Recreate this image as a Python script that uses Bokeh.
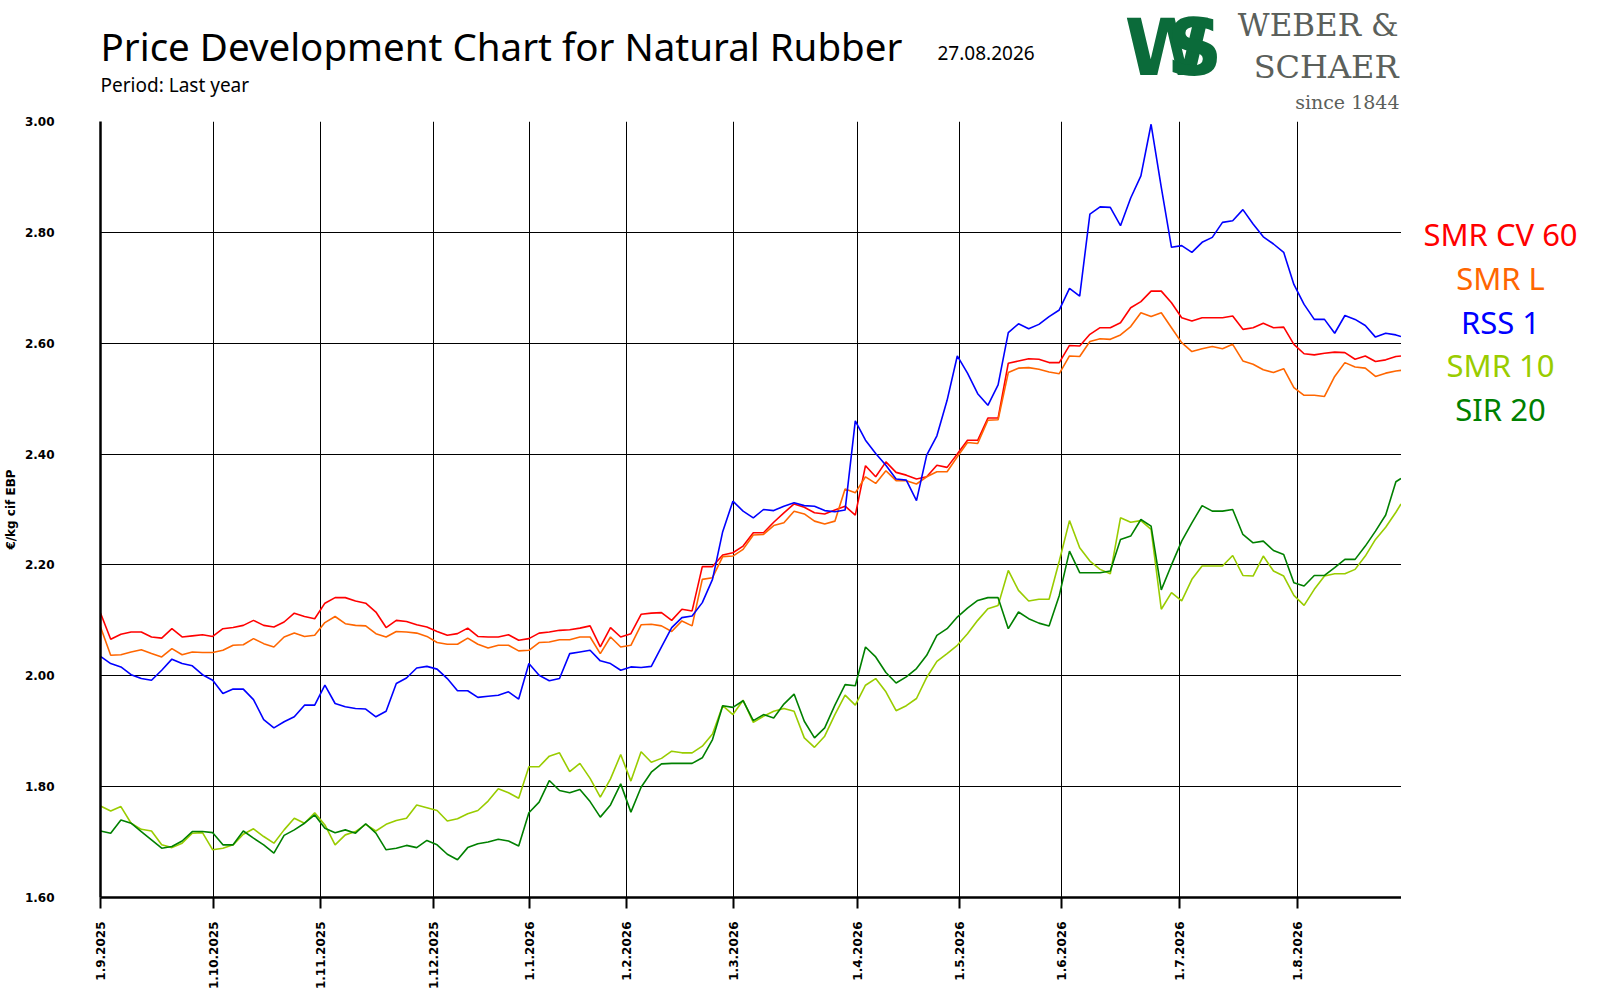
import math
from bokeh.plotting import figure
from bokeh.models import Range1d, FixedTicker, CustomJSTickFormatter, PrintfTickFormatter, GridBox
from bokeh.core.properties import value
from bokeh.embed import file_html
from bokeh.resources import INLINE

# trading-day index (every 2nd day sampled, last day appended)
day = list(range(0, 256, 2)) + [255]

smr_cv60 = [
    2.113, 2.066, 2.075, 2.079, 2.079, 2.070, 2.068, 2.085,
    2.070, 2.072, 2.074, 2.071, 2.085, 2.087, 2.091, 2.100,
    2.091, 2.088, 2.097, 2.113, 2.107, 2.103, 2.131, 2.141,
    2.141, 2.135, 2.131, 2.115, 2.087, 2.100, 2.098, 2.092,
    2.088, 2.080, 2.073, 2.076, 2.086, 2.071, 2.070, 2.070,
    2.074, 2.064, 2.067, 2.077, 2.079, 2.082, 2.083, 2.086,
    2.090, 2.052, 2.087, 2.070, 2.076, 2.111, 2.113, 2.114,
    2.100, 2.120, 2.117, 2.197, 2.197, 2.218, 2.222, 2.234,
    2.258, 2.258, 2.277, 2.294, 2.310, 2.304, 2.294, 2.292,
    2.299, 2.306, 2.290, 2.379, 2.359, 2.386, 2.367, 2.362,
    2.355, 2.359, 2.380, 2.376, 2.400, 2.425, 2.425, 2.465,
    2.465, 2.564, 2.568, 2.572, 2.571, 2.565, 2.565, 2.596,
    2.595, 2.616, 2.628, 2.628, 2.637, 2.664, 2.675, 2.694,
    2.694, 2.673, 2.646, 2.640, 2.646, 2.646, 2.646, 2.649,
    2.625, 2.628, 2.636, 2.628, 2.629, 2.598, 2.581, 2.579,
    2.582, 2.584, 2.583, 2.571, 2.577, 2.567, 2.570, 2.576,
    2.577]

smr_l = [
    2.088, 2.037, 2.038, 2.043, 2.047, 2.040, 2.034, 2.049,
    2.038, 2.043, 2.042, 2.042, 2.046, 2.055, 2.056, 2.067,
    2.058, 2.052, 2.070, 2.077, 2.071, 2.073, 2.096, 2.107,
    2.094, 2.091, 2.090, 2.076, 2.070, 2.080, 2.079, 2.077,
    2.071, 2.060, 2.057, 2.057, 2.068, 2.057, 2.050, 2.055,
    2.055, 2.045, 2.046, 2.060, 2.061, 2.065, 2.065, 2.070,
    2.070, 2.040, 2.070, 2.052, 2.055, 2.092, 2.093, 2.090,
    2.080, 2.099, 2.090, 2.174, 2.177, 2.215, 2.216, 2.228,
    2.254, 2.255, 2.271, 2.276, 2.297, 2.292, 2.279, 2.274,
    2.279, 2.337, 2.330, 2.359, 2.347, 2.370, 2.352, 2.352,
    2.346, 2.359, 2.368, 2.368, 2.395, 2.421, 2.419, 2.461,
    2.462, 2.547, 2.555, 2.556, 2.553, 2.548, 2.545, 2.577,
    2.576, 2.603, 2.608, 2.607, 2.615, 2.630, 2.655, 2.648,
    2.655, 2.628, 2.601, 2.585, 2.590, 2.594, 2.590, 2.598,
    2.568, 2.562, 2.552, 2.547, 2.554, 2.520, 2.506, 2.506,
    2.504, 2.540, 2.565, 2.557, 2.555, 2.540, 2.546, 2.550,
    2.551]

rss_1 = [
    2.035, 2.022, 2.016, 2.002, 1.995, 1.992, 2.010, 2.030,
    2.022, 2.018, 2.002, 1.992, 1.968, 1.976, 1.976, 1.957,
    1.921, 1.906, 1.917, 1.926, 1.947, 1.947, 1.983, 1.950,
    1.944, 1.941, 1.940, 1.926, 1.936, 1.986, 1.996, 2.014,
    2.017, 2.012, 1.995, 1.973, 1.973, 1.961, 1.963, 1.965,
    1.971, 1.958, 2.022, 2.001, 1.991, 1.995, 2.040, 2.043,
    2.046, 2.027, 2.022, 2.010, 2.016, 2.015, 2.017, 2.052,
    2.087, 2.105, 2.108, 2.132, 2.174, 2.260, 2.315, 2.297,
    2.285, 2.300, 2.298, 2.306, 2.312, 2.307, 2.306, 2.298,
    2.296, 2.299, 2.460, 2.425, 2.401, 2.380, 2.355, 2.353,
    2.316, 2.398, 2.433, 2.497, 2.577, 2.546, 2.509, 2.488,
    2.525, 2.619, 2.635, 2.626, 2.634, 2.648, 2.660, 2.699,
    2.685, 2.833, 2.846, 2.845, 2.812, 2.862, 2.902, 2.995,
    2.881, 2.773, 2.776, 2.764, 2.782, 2.791, 2.818, 2.821,
    2.841, 2.815, 2.792, 2.779, 2.764, 2.706, 2.670, 2.643,
    2.643, 2.618, 2.650, 2.643, 2.632, 2.611, 2.618, 2.615,
    2.612]

smr_10 = [
    1.765, 1.756, 1.764, 1.734, 1.723, 1.720, 1.695, 1.690,
    1.698, 1.716, 1.717, 1.686, 1.689, 1.695, 1.714, 1.724,
    1.710, 1.698, 1.722, 1.743, 1.734, 1.753, 1.731, 1.695,
    1.713, 1.719, 1.732, 1.720, 1.732, 1.739, 1.743, 1.767,
    1.762, 1.757, 1.738, 1.742, 1.751, 1.757, 1.774, 1.796,
    1.789, 1.779, 1.836, 1.836, 1.855, 1.861, 1.827, 1.842,
    1.815, 1.781, 1.814, 1.858, 1.810, 1.863, 1.844, 1.851,
    1.864, 1.861, 1.861, 1.873, 1.895, 1.946, 1.930, 1.956,
    1.916, 1.927, 1.936, 1.941, 1.936, 1.888, 1.871, 1.891,
    1.930, 1.965, 1.947, 1.983, 1.995, 1.971, 1.937, 1.946,
    1.959, 1.997, 2.026, 2.040, 2.055, 2.076, 2.100, 2.121,
    2.127, 2.190, 2.154, 2.135, 2.138, 2.138, 2.207, 2.280,
    2.231, 2.207, 2.192, 2.184, 2.285, 2.277, 2.280, 2.264,
    2.120, 2.150, 2.135, 2.174, 2.198, 2.198, 2.198, 2.217,
    2.181, 2.180, 2.216, 2.189, 2.180, 2.145, 2.127, 2.156,
    2.180, 2.184, 2.184, 2.192, 2.216, 2.246, 2.268, 2.295,
    2.310]

sir_20 = [
    1.720, 1.716, 1.740, 1.734, 1.719, 1.704, 1.689, 1.692,
    1.702, 1.719, 1.719, 1.717, 1.695, 1.695, 1.720, 1.707,
    1.695, 1.680, 1.712, 1.722, 1.734, 1.749, 1.725, 1.717,
    1.722, 1.716, 1.733, 1.716, 1.686, 1.689, 1.694, 1.690,
    1.703, 1.695, 1.678, 1.668, 1.690, 1.697, 1.700, 1.705,
    1.702, 1.693, 1.753, 1.772, 1.811, 1.793, 1.789, 1.795,
    1.773, 1.745, 1.767, 1.805, 1.754, 1.799, 1.826, 1.841,
    1.842, 1.842, 1.842, 1.852, 1.885, 1.946, 1.943, 1.955,
    1.919, 1.930, 1.924, 1.949, 1.967, 1.918, 1.888, 1.906,
    1.947, 1.984, 1.982, 2.052, 2.034, 2.006, 1.987, 1.998,
    2.013, 2.037, 2.073, 2.085, 2.106, 2.122, 2.136, 2.141,
    2.141, 2.085, 2.115, 2.103, 2.095, 2.090, 2.145, 2.225,
    2.186, 2.186, 2.186, 2.189, 2.246, 2.252, 2.282, 2.270,
    2.155, 2.200, 2.243, 2.276, 2.307, 2.297, 2.297, 2.300,
    2.255, 2.240, 2.243, 2.226, 2.219, 2.168, 2.162, 2.181,
    2.181, 2.195, 2.210, 2.210, 2.234, 2.261, 2.290, 2.350,
    2.356]

series_names = ["SMR CV 60", "SMR L", "RSS 1", "SMR 10", "SIR 20"]
series_colors = ["#ff0000", "#ff6600", "#0000ff", "#99cc00", "#008000"]
series_values = [smr_cv60, smr_l, rss_1, smr_10, sir_20]

month_ticks = [0, 22.1, 43.2, 65.3, 84.1, 103.2, 124.2, 148.5, 168.5, 188.5, 211.6, 234.7]
month_labels = ["1.9.2025", "1.10.2025", "1.11.2025", "1.12.2025", "1.1.2026", "1.2.2026",
                "1.3.2026", "1.4.2026", "1.5.2026", "1.6.2026", "1.7.2026", "1.8.2026"]
y_ticks = [1.6, 1.8, 2.0, 2.2, 2.4, 2.6, 2.8, 3.0]

TOTAL_W, TOTAL_H = 1592, 992
HEAD_H = 113
MAIN_W = 1401
MAIN_H = TOTAL_H - HEAD_H
BORDER_L, BORDER_T, BORDER_B = 100, 8, 95


def blank(width, height, xr, yr):
    f = figure(width=width, height=height, x_range=xr, y_range=yr,
               x_axis_type=None, y_axis_type=None, output_backend="svg",
               toolbar_location=None, min_border=0)
    f.outline_line_color = None
    f.background_fill_color = "white"
    f.border_fill_color = "white"
    return f


def put(f, text, X, Yc, size, color="black", font="Noto Sans", align="left", style="normal"):
    f.text(x=[X], y=[Yc], text=[text], text_font=value(font), text_font_size=value(f"{size}px"),
           text_color=value(color), text_align=value(align), text_baseline=value("middle"),
           text_font_style=value(style))


# main chart
p = figure(width=MAIN_W, height=MAIN_H, x_range=Range1d(0, 255.1), y_range=Range1d(1.6, 3.0),
           output_backend="svg", toolbar_location=None,
           min_border_left=BORDER_L, min_border_right=0, min_border_top=BORDER_T,
           min_border_bottom=BORDER_B)
p.outline_line_color = None
p.background_fill_color = "white"
p.border_fill_color = "white"

for vals, col in zip(series_values, series_colors):
    p.line(day, vals, line_color=col, line_width=1.6)

p.xaxis.ticker = FixedTicker(ticks=month_ticks)
p.xaxis.formatter = CustomJSTickFormatter(args=dict(tk=month_ticks, labels=month_labels), code="""
    for (let i = 0; i < tk.length; i++) { if (Math.abs(tk[i] - tick) < 1e-6) return labels[i]; }
    return "";
""")
p.xaxis.major_label_orientation = math.pi / 2
p.yaxis.ticker = FixedTicker(ticks=y_ticks)
p.yaxis.formatter = PrintfTickFormatter(format="%.2f")
for ax in (p.xaxis, p.yaxis):
    ax.axis_line_color = "black"
    ax.axis_line_width = 2.5
    ax.major_label_text_font = "DejaVu Sans"
    ax.major_label_text_font_style = "bold"
    ax.major_label_text_font_size = "12px"
    ax.major_label_text_color = "black"
    ax.minor_tick_line_color = None
p.xaxis.major_tick_out = 11
p.xaxis.major_tick_in = 0
p.xaxis.major_tick_line_width = 2
p.xaxis.major_tick_line_color = "black"
p.xaxis.major_label_standoff = 13
p.yaxis.major_tick_line_color = None
p.yaxis.major_label_standoff = 40
p.yaxis.axis_label = "€/kg cif EBP"
p.yaxis.axis_label_text_font = "DejaVu Sans"
p.yaxis.axis_label_text_font_style = "bold"
p.yaxis.axis_label_text_font_size = "12px"
p.yaxis.axis_label_text_color = "black"
p.yaxis.axis_label_standoff = 4

p.grid.grid_line_color = "black"
p.grid.grid_line_width = 1
p.grid.grid_line_alpha = 1.0

# series names right of the chart; its frame is aligned with the chart frame (page y 121..897)
side = blank(TOTAL_W - MAIN_W, MAIN_H, Range1d(MAIN_W, TOTAL_W),
             Range1d(TOTAL_H - BORDER_B, HEAD_H + BORDER_T))
legend_y = [233, 277, 321, 364, 408]
for name, col, yy in zip(series_names, series_colors, legend_y):
    put(side, name, 1500, yy, 31, color=col, align="center")

# header; its frame is aligned with the chart frame on the left (page x 100..1592)
head = blank(TOTAL_W, HEAD_H, Range1d(BORDER_L, TOTAL_W), Range1d(HEAD_H, 0))
put(head, "Price Development Chart for Natural Rubber", 100, 45, 38.5)
put(head, "27.08.2026", 937, 52, 19)
put(head, "Period: Last year", 100, 84, 19)
put(head, "W", 1124, 47, 78, color="#0b6b3a", font="DejaVu Sans", style="bold")
put(head, "S", 1166, 47, 78, color="#0b6b3a", font="DejaVu Sans", style="bold")
put(head, "WEBER &", 1398, 24, 31, color="#5b605b", font="DejaVu Serif", align="right")
put(head, "SCHAER", 1398, 66, 32, color="#5b605b", font="DejaVu Serif", align="right")
put(head, "since 1844", 1399, 101, 19, color="#5b605b", font="DejaVu Serif", align="right")

layout = GridBox(children=[(p, 1, 0), (side, 1, 1), (head, 0, 0, 1, 2)])
open("out.html", "w").write(file_html(layout, INLINE))
